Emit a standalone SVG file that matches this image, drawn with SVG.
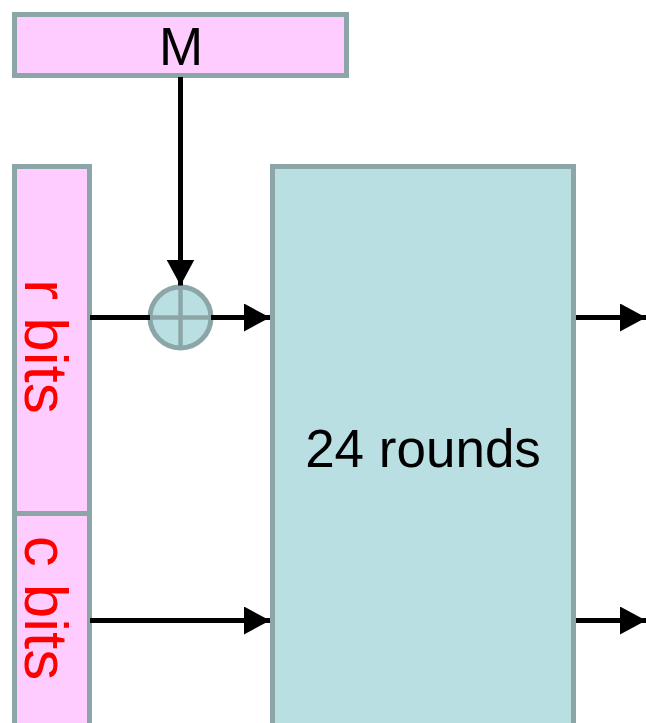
<svg xmlns="http://www.w3.org/2000/svg" width="646" height="723" viewBox="0 0 646 723">
  <style>
    .reg { fill: #FFCCFF; stroke: #8CA6A8; stroke-width: 5; }
    .perm { fill: #B9DFE2; stroke: #8CA6A8; stroke-width: 5; }
    .wire { stroke: #000000; stroke-width: 5; fill: none; }
    .lbl { font-family: "Liberation Sans", Arial, sans-serif; font-size: 53px; fill: #000000; text-anchor: middle; }
    .bits { font-family: "Liberation Sans", Arial, sans-serif; font-size: 62px; fill: #FF0000; text-anchor: middle; }
  </style>
  <defs>
    <marker id="arrow" markerUnits="userSpaceOnUse" markerWidth="27" markerHeight="28" refX="26" refY="14" orient="auto">
      <path d="M0,0 L26,14 L0,28 Z" fill="#000000"/>
    </marker>
  </defs>

  <!-- message block -->
  <g id="message">
    <rect class="reg" x="14.5" y="14.5" width="332" height="61"/>
    <text class="lbl" x="181" y="65">M</text>
  </g>

  <!-- rate part of the state -->
  <g id="rate">
    <rect class="reg" x="14.5" y="166.5" width="75" height="347"/>
    <text class="bits" transform="translate(25,346.5) rotate(90)" x="0" y="0">r bits</text>
  </g>

  <!-- capacity part of the state -->
  <g id="capacity">
    <rect class="reg" x="14.5" y="513.5" width="75" height="230"/>
    <text class="bits" transform="translate(25,608) rotate(90)" x="0" y="0">c bits</text>
  </g>

  <!-- permutation -->
  <g id="permutation">
    <rect class="perm" x="272.5" y="166.5" width="301" height="580"/>
    <text class="lbl" x="423" y="467">24 rounds</text>
  </g>

  <!-- XOR -->
  <g id="xor">
    <circle class="perm" cx="180.5" cy="317.5" r="30.5"/>
    <line x1="180.5" y1="287" x2="180.5" y2="348" stroke="#8CA6A8" stroke-width="4.5"/>
    <line x1="150" y1="317.5" x2="211" y2="317.5" stroke="#8CA6A8" stroke-width="4.5"/>
  </g>

  <!-- connectors -->
  <g id="connectors">
    <line class="wire" x1="180.5" y1="77" x2="180.5" y2="285.5" marker-end="url(#arrow)"/>
    <line class="wire" x1="90" y1="317.5" x2="150" y2="317.5"/>
    <line class="wire" x1="211" y1="317.5" x2="270" y2="317.5" marker-end="url(#arrow)"/>
    <line class="wire" x1="90" y1="620.5" x2="270" y2="620.5" marker-end="url(#arrow)"/>
    <line class="wire" x1="576" y1="317.5" x2="646" y2="317.5" marker-end="url(#arrow)"/>
    <line class="wire" x1="576" y1="620.5" x2="646" y2="620.5" marker-end="url(#arrow)"/>
  </g>
</svg>
